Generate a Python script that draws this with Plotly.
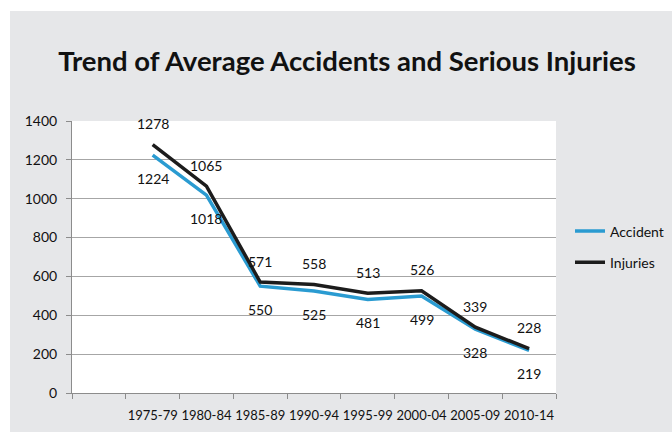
import plotly.graph_objects as go

periods = ["1975-79", "1980-84", "1985-89", "1990-94", "1995-99", "2000-04", "2005-09", "2010-14"]
accident = [1224, 1018, 550, 525, 481, 499, 328, 219]
injuries = [1278, 1065, 571, 558, 513, 526, 339, 228]

# first category slot on the axis is empty, periods occupy slots 1..8
xpos = [i + 1 for i in range(len(periods))]

FONT = "Lato"
BLUE = "#2a9bd1"
BLACK = "#1c1c1c"
GRAY_BG = "#e6e7e9"

fig = go.Figure()
fig.add_trace(go.Scatter(x=xpos, y=accident, mode="lines", name="Accident",
                         line=dict(color=BLUE, width=3.5), legendgroup="a"))
fig.add_trace(go.Scatter(x=xpos, y=injuries, mode="lines", name="Injuries",
                         line=dict(color=BLACK, width=3.5), legendgroup="b"))

annotations = []
for x, v in zip(xpos, injuries):
    annotations.append(dict(x=x, y=v, text=str(v), showarrow=False, yshift=21,
                            font=dict(family=FONT, size=14, color="#111111")))
for x, v in zip(xpos, accident):
    annotations.append(dict(x=x, y=v, text=str(v), showarrow=False, yshift=-23,
                            font=dict(family=FONT, size=14, color="#111111")))

W, H = 672, 432
ml, mr, mt, mb = 72, 116, 121, 39
pw, ph = W - ml - mr, H - mt - mb

def px2x(p):
    return (p - ml) / pw

def py2y(p):
    return (H - mb - p) / ph

shapes = [
    dict(type="rect", xref="paper", yref="paper", layer="below",
         x0=px2x(10), x1=px2x(W + 5), y0=py2y(H + 5), y1=py2y(11),
         fillcolor=GRAY_BG, line=dict(width=0)),
    dict(type="rect", xref="paper", yref="paper", layer="below",
         x0=0, x1=1, y0=0, y1=1, fillcolor="white", line=dict(width=0)),
]

fig.update_layout(
    width=W, height=H,
    margin=dict(l=ml, r=mr, t=mt, b=mb, autoexpand=False),
    paper_bgcolor="white", plot_bgcolor="white",
    font=dict(family=FONT, size=14, color="#111111"),
    title=dict(text="<b>Trend of Average Accidents and Serious Injuries</b>",
               x=347 / W, xanchor="center", y=1 - 61 / H, yanchor="middle",
               font=dict(family=FONT, size=27.5, color="#111111")),
    showlegend=True,
    legend=dict(xref="container", yref="container", x=570 / W, xanchor="left",
                y=1 - 247 / H, yanchor="middle",
                bgcolor="rgba(0,0,0,0)", tracegroupgap=10,
                font=dict(family=FONT, size=14, color="#111111")),
    annotations=annotations,
    shapes=shapes,
    xaxis=dict(range=[-0.5, 8.5], tickvals=xpos, ticktext=periods, ticks="",
               showgrid=False, zeroline=False, showline=True, linecolor="#8c8c8c",
               linewidth=1, tickfont=dict(family=FONT, size=13, color="#111111"),
               minor=dict(ticks="outside", tick0=0.5, dtick=1, ticklen=5,
                          tickcolor="#8c8c8c", showgrid=False),
               ticklabelstandoff=10, automargin=False, fixedrange=True),
    yaxis=dict(range=[0, 1400], dtick=200, tick0=0, showgrid=True,
               gridcolor="#a6a6a6", gridwidth=1, zeroline=False, showline=True,
               linecolor="#8c8c8c", linewidth=1, ticks="outside", ticklen=5,
               tickcolor="#8c8c8c", ticklabelstandoff=6, automargin=False,
               tickfont=dict(family=FONT, size=14, color="#111111"), fixedrange=True),
)

fig.write_html("out.html", config={"displayModeBar": False},
               post_script="document.body.style.margin='0px';document.body.style.overflow='hidden';")
